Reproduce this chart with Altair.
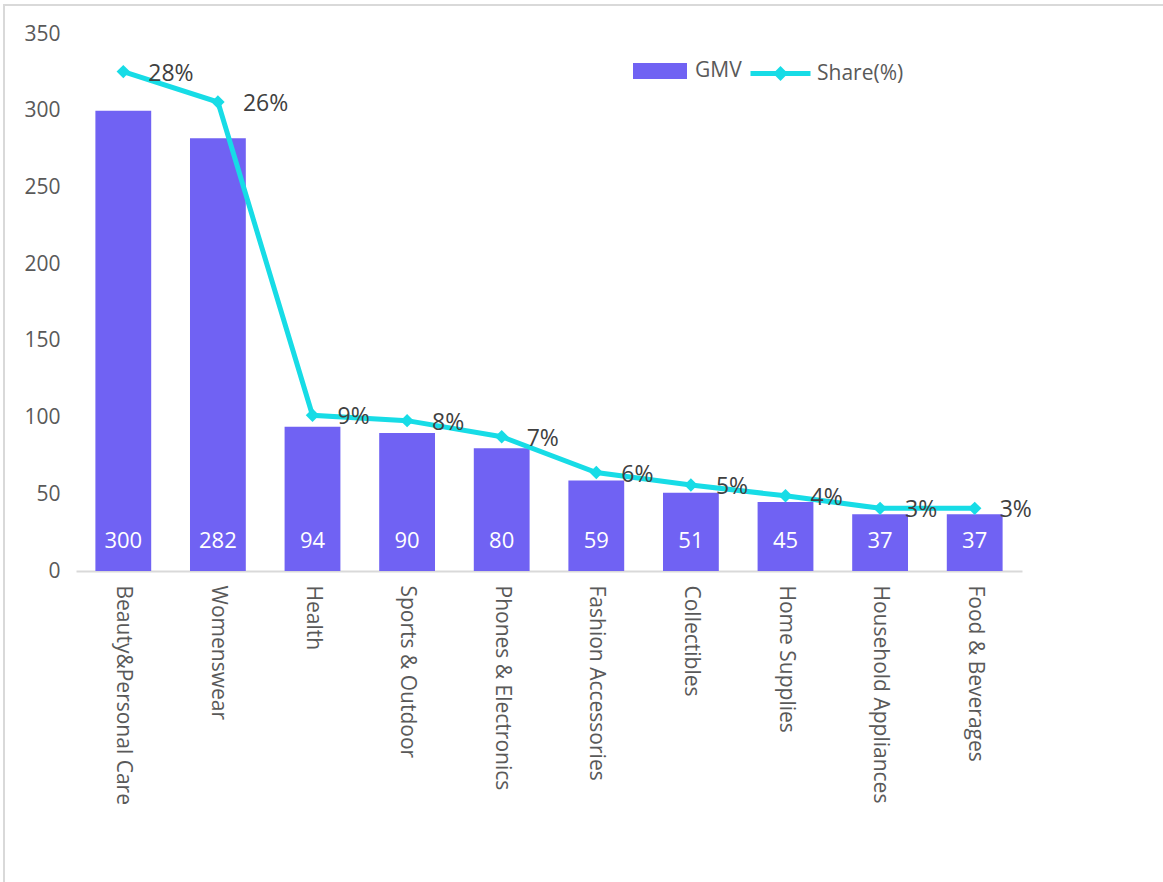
import altair as alt
import pandas as pd

categories = ["Beauty&Personal Care", "Womenswear", "Health", "Sports & Outdoor",
              "Phones & Electronics", "Fashion Accessories", "Collectibles",
              "Home Supplies", "Household Appliances", "Food & Beverages"]
gmv = [300, 282, 94, 90, 80, 59, 51, 45, 37, 37]
share = [27.9, 26.2, 8.7, 8.4, 7.5, 5.5, 4.8, 4.2, 3.5, 3.5]
share_labels = ["28%", "26%", "9%", "8%", "7%", "6%", "5%", "4%", "3%", "3%"]

df = pd.DataFrame({"category": categories, "gmv": gmv, "share": share,
                   "lbl": share_labels})

FONT = "Open Sans"
BAR = "#7062F3"
LINE = "#17DCE6"
AX = "#595959"
AXFS = 21

x = alt.X("category:N", sort=categories, title=None,
          scale=alt.Scale(paddingInner=0.41, paddingOuter=0.205),
          axis=alt.Axis(labelAngle=90, labelAlign="left", labelBaseline="middle",
                        labelPadding=14, ticks=False, domainColor="#D9D9D9",
                        domainWidth=2, labelFontSize=AXFS, labelColor=AX,
                        labelFont=FONT, labelLimit=400))

yl = alt.Y("gmv:Q", title=None,
           scale=alt.Scale(domain=[0, 350]),
           axis=alt.Axis(values=[0, 50, 100, 150, 200, 250, 300, 350], orient="left",
                         domain=False, ticks=False, grid=False, labelPadding=16,
                         labelFontSize=AXFS, labelColor=AX, labelFont=FONT))

yr = alt.Y("share:Q", title=None,
           scale=alt.Scale(domain=[0, 30]),
           axis=alt.Axis(values=[0, 5, 10, 15, 20, 25, 30], orient="right",
                         labelExpr="datum.value + '%'",
                         domain=False, ticks=False, grid=False, labelPadding=13,
                         labelFontSize=AXFS, labelColor=AX, labelFont=FONT))

base = alt.Chart(df)

bars = base.mark_bar().encode(
    x=x, y=yl,
    fill=alt.Fill("s:N", scale=alt.Scale(domain=["GMV"], range=[BAR]),
                  legend=alt.Legend(title=None, orient="none", legendX=557, legendY=10,
                                    symbolType="M-1,-0.3H1V0.3H-1Z", symbolSize=2916,
                                    symbolStrokeWidth=0, labelOffset=8, padding=0,
                                    labelFontSize=AXFS, labelColor=AX, labelFont=FONT)),
).transform_calculate(s="'GMV'")

bar_text = base.mark_text(color="white", fontSize=22, font=FONT, baseline="middle",
                          dy=-30).encode(
    x=alt.X("category:N", sort=categories),
    y=alt.datum(0, scale=alt.Scale(domain=[0, 350])),
    text="gmv:Q",
)

left = alt.layer(bars, bar_text)

line = base.mark_line(strokeWidth=5).encode(
    x=alt.X("category:N", sort=categories), y=yr,
    stroke=alt.Stroke("s:N", scale=alt.Scale(domain=["Share(%)"], range=[LINE]),
                      legend=alt.Legend(title=None, orient="none", legendX=672, legendY=7,
                                        symbolType="M-1,0H1M-0.13,0L0,-0.13L0.13,0L0,0.13Z",
                                        symbolSize=3600, symbolStrokeWidth=5,
                                        labelOffset=4, padding=0,
                                        labelFontSize=AXFS, labelColor=AX, labelFont=FONT)),
).transform_calculate(s="'Share(%)'")

pts = base.mark_point(shape="diamond", filled=True, size=180, color=LINE, opacity=1).encode(
    x=alt.X("category:N", sort=categories), y=alt.Y("share:Q", axis=None),
)

pct = base.mark_text(align="left", baseline="middle", dx=25, dy=2, fontSize=23,
                     font=FONT, color="#404040").encode(
    x=alt.X("category:N", sort=categories), y=alt.Y("share:Q", axis=None),
    text="lbl:N",
)

right = alt.layer(line, pts, pct)

border = alt.Chart(pd.DataFrame({"b": [0]})).mark_rect(
    fill=None, stroke="#D9D9D9", strokeWidth=2).encode(
    x=alt.value(-72), x2=alt.value(1200), y=alt.value(-29), y2=alt.value(900))

chart = alt.layer(left, right, border).resolve_scale(
    y="independent", fill="independent", stroke="independent"
).properties(
    width=946, height=537,
    autosize=alt.AutoSizeParams(type="none"),
    padding={"left": 76, "top": 34, "right": 141, "bottom": 311},
).configure(background="white").configure_view(stroke=None)

chart.save("out.html", embed_options={"renderer": "svg", "actions": False})
